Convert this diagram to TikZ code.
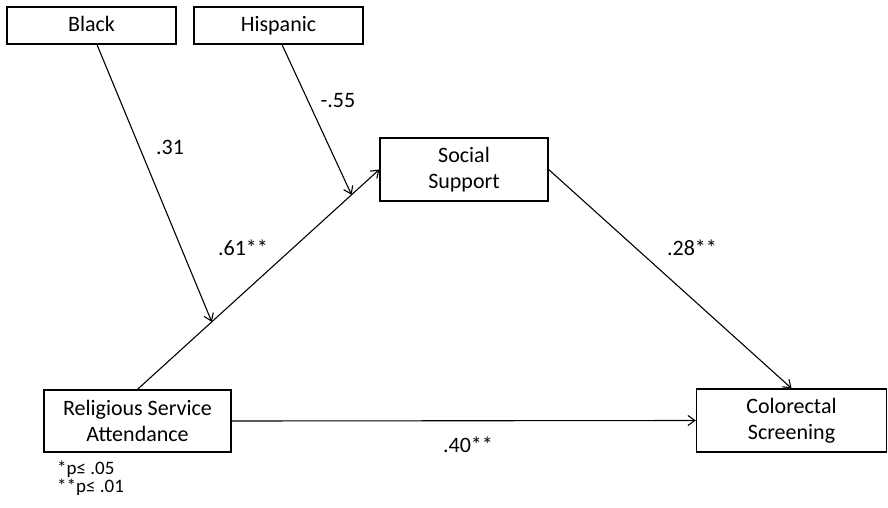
\documentclass[tikz,border=0pt]{standalone}
\usepackage{fontspec}
\setmainfont{Carlito}
\usepackage{xcolor}
\usetikzlibrary{calc,arrows.meta}

\begin{document}
\begin{tikzpicture}[x=1pt, y=-1pt,
        box/.style={rectangle, draw, line width=1.3pt, inner sep=0pt, align=center, font=\fontsize{22}{26}\selectfont},
        path/.style={line width=1.1pt, -{Straight Barb[length=7pt, width=10pt, line width=1.1pt]}},
        coef/.style={font=\fontsize{22}{26}\selectfont}]
        \useasboundingbox (0,0) rectangle (888,508);

        % Moderators
        \node[box, minimum width=169pt, minimum height=37pt, text height=14pt, text depth=1pt] (black) at (91.5,25.5) {Black};
        \node[box, minimum width=169pt, minimum height=37pt, text height=14pt, text depth=1pt] (hispanic) at (278.5,25.5) {Hispanic};

        % Mediator
        \node[box, minimum width=168pt, minimum height=63pt] (support) at (464,169.5) {Social\\Support};

        % Predictor and outcome
        \node[box, minimum width=187pt, minimum height=62pt] (religious) at (137.5,421) {Religious Service\\Attendance};
        \node[box, minimum width=190pt, minimum height=63pt] (screening) at (791.5,420.5) {Colorectal\\Screening};

        % Points where the moderators meet the a-path
        \coordinate (blackend) at ($(religious.north)!0.307!(support.west)$);
        \coordinate (hispend) at ($(religious.north)!0.885!(support.west)$);

        % Arrows
        \draw[path] (religious.north) -- (support.west);
        \draw[path] (support.east) -- (screening.north);
        \draw[path] (religious.east) -- (screening.west);
        \draw[path] (black.south -| 97,0) -- (blackend);
        \draw[path] (hispanic.south -| 282,0) -- (hispend);

        % Coefficients
        \node[coef] (c31) at (170,147) {.31};
        \node[coef] (c55) at (338,101) {-.55};
        \node[coef] (c61) at (243,248) {.61**};
        \node[coef] (c28) at (692,248) {.28**};
        \node[coef] (c40) at (468,445) {.40**};

        % Significance
        \node[anchor=base west, inner sep=0pt, align=left, font=\fontsize{19}{18}\selectfont] (signif) at (57,492) {*p≤ .05\\**p≤ .01};
    \end{tikzpicture}
\end{document}
